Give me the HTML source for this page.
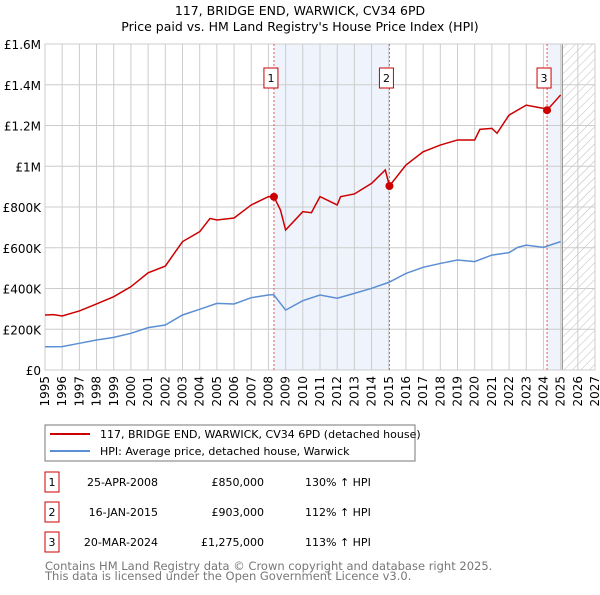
<!DOCTYPE html>
<html><head><meta charset="utf-8"><style>
body{margin:0;background:#fff;font-family:"Liberation Sans","DejaVu Sans",sans-serif}
svg text{font-family:"DejaVu Sans","Liberation Sans",sans-serif}
</style></head><body>
<svg id="c" width="600" height="590" xmlns="http://www.w3.org/2000/svg">
<defs><pattern id="hatch" width="6" height="6" patternUnits="userSpaceOnUse" patternTransform="rotate(45)"><line x1="0" y1="0" x2="0" y2="6" stroke="#bbb" stroke-width="1"/></pattern></defs>
<text x="300" y="15" text-anchor="middle" font-size="12.5">117, BRIDGE END, WARWICK, CV34 6PD</text>
<text x="300" y="31" text-anchor="middle" font-size="12.5">Price paid vs. HM Land Registry's House Price Index (HPI)</text>
<g id="plot"></g>
<rect x="45" y="425" width="370" height="36" fill="#fff" stroke="#777"/>
<line x1="50" y1="434" x2="90" y2="434" stroke="#cc0000" stroke-width="2"/>
<text x="100" y="438" font-size="11">117, BRIDGE END, WARWICK, CV34 6PD (detached house)</text>
<line x1="50" y1="451" x2="90" y2="451" stroke="#5b8fd4" stroke-width="2"/>
<text x="100" y="455" font-size="11">HPI: Average price, detached house, Warwick</text>
<g id="table" font-size="11"></g>
<text x="45" y="570" font-size="11.5" fill="#777">Contains HM Land Registry data © Crown copyright and database right 2025.</text>
<text x="45" y="580" font-size="11.5" fill="#777">This data is licensed under the Open Government Licence v3.0.</text>
</svg>
<script>
const yTicks=[0,200000,400000,600000,800000,1000000,1200000,1400000,1600000];
const yTickLabels=["£0","£200K","£400K","£600K","£800K","£1M","£1.2M","£1.4M","£1.6M"];
const years=[1995,1996,1997,1998,1999,2000,2001,2002,2003,2004,2005,2006,2007,2008,2009,2010,2011,2012,2013,2014,2015,2016,2017,2018,2019,2020,2021,2022,2023,2024,2025,2026,2027];
const hpiDates=[1995,1996,1997,1998,1999,2000,2001,2002,2003,2004,2005,2006,2007,2008,2008.3,2009,2010,2011,2012,2013,2014,2015,2016,2017,2018,2019,2020,2021,2022,2022.5,2023,2024,2025];
const hpiValues=[114000,115000,131000,147000,160000,180000,208000,221000,270000,298000,327000,324000,355000,368000,370000,294000,340000,368000,352000,376000,401000,430000,474000,504000,523000,540000,532000,564000,576000,602000,613000,602000,630000];
const priceDates=[1995,1995.5,1996,1997,1998,1999,2000,2001,2002,2003,2004,2004.6,2005,2006,2007,2008,2008.32,2008.7,2009,2010,2010.5,2011,2012,2012.2,2013,2014,2014.8,2015.04,2016,2017,2018,2019,2020,2020.3,2021,2021.3,2022,2023,2024,2024.21,2025];
const priceValues=[270000,272000,265000,290000,324000,360000,409000,477000,510000,630000,679000,744000,736000,746000,810000,851000,850000,785000,687000,777000,772000,851000,810000,851000,864000,916000,982000,903000,1006000,1071000,1104000,1129000,1129000,1181000,1186000,1162000,1251000,1300000,1284000,1275000,1350000];
const saleDates=[2008.32,2015.04,2024.21];
const saleValues=[850000,903000,1275000];
const saleLabels=["1","2","3"];
const saleDateText=["25-APR-2008","16-JAN-2015","20-MAR-2024"];
const salePriceText=["£850,000","£903,000","£1,275,000"];
const salePctText=["130% ↑ HPI","112% ↑ HPI","113% ↑ HPI"];
const dataEnd=2025.1;
const X0=45,X1=595,Y0=370,Y1=44;
const xs=t=>X0+(t-1995)/(2027-1995)*(X1-X0);
const ys=v=>Y0-v/1600000*(Y0-Y1);
const NS="http://www.w3.org/2000/svg";
const plot=document.getElementById('plot');
function mk(tag,attrs,parent){const e=document.createElementNS(NS,tag);for(const k in attrs)e.setAttribute(k,attrs[k]);(parent||plot).appendChild(e);return e;}
let e;
e=mk('rect',{x:xs(saleDates[0]),y:Y1,width:xs(saleDates[1])-xs(saleDates[0]),height:Y0-Y1,fill:'#eef3fc'});


e=mk('rect',{x:xs(saleDates[2]),y:Y1,width:xs(dataEnd)-xs(saleDates[2]),height:Y0-Y1,fill:'#eef3fc'});


e=mk('rect',{x:xs(dataEnd),y:Y1,width:X1-xs(dataEnd),height:Y0-Y1,fill:'url(#hatch)'});


yTicks.forEach((v,i)=>{
  e=mk('line',{x1:X0,x2:X1,y1:ys(v),y2:ys(v),stroke:'#ccc'});
  
  
  e=mk('text',{x:X0-4,y:ys(v)+5,'text-anchor':'end','font-size':'12'});e.textContent=yTickLabels[i];
  
  
});
years.forEach(y=>{
  e=mk('line',{x1:xs(y),x2:xs(y),y1:Y1,y2:Y0,stroke:'#ccc'});
  
  
  e=mk('text',{x:0,y:0,'text-anchor':'end','font-size':'12',transform:`translate(${xs(y)+4},${Y0+6}) rotate(-90)`});e.textContent=y;
  
  
});
e=mk('line',{x1:xs(dataEnd),x2:xs(dataEnd),y1:Y1,y2:Y0,stroke:'#888'});


e=mk('rect',{x:X0,y:Y1,width:X1-X0,height:Y0-Y1,fill:'none',stroke:'#ccc'});


saleDates.forEach((d,i)=>{
  e=mk('line',{x1:xs(d),x2:xs(d),y1:Y1,y2:Y0,stroke:'#e55','stroke-dasharray':'2,2'});
  
  
  e=mk('rect',{x:xs(d)-10,y:68,width:14,height:20,fill:'#fff',stroke:'#cc0000'});
  
  
  e=mk('text',{x:xs(d)-3,y:82,'text-anchor':'middle','font-size':'11'});e.textContent=saleLabels[i];
  
  
});
e=mk('polyline',{points:hpiDates.map((d,i)=>xs(d)+','+ys(hpiValues[i])).join(' '),fill:'none',stroke:'#5b8fd4','stroke-width':1.5});


e=mk('polyline',{points:priceDates.map((d,i)=>xs(d)+','+ys(priceValues[i])).join(' '),fill:'none',stroke:'#cc0000','stroke-width':1.5});


saleDates.forEach((d,i)=>{
  e=mk('circle',{cx:xs(d),cy:ys(saleValues[i]),r:4,fill:'#cc0000'});
  
  
});
const tbl=document.getElementById('table');
saleDates.forEach((d,i)=>{
  const y=483+i*30;
  e=mk('rect',{x:45,y:y-11,width:14,height:20,fill:'#fff',stroke:'#cc0000'},tbl);
  
  
  e=mk('text',{x:52,y:y+3,'text-anchor':'middle'},tbl);e.textContent=saleLabels[i];
  
  
  e=mk('text',{x:158,y:y+3,'text-anchor':'end'},tbl);e.textContent=saleDateText[i];
  
  
  e=mk('text',{x:264,y:y+3,'text-anchor':'end'},tbl);e.textContent=salePriceText[i];
  
  
  e=mk('text',{x:305,y:y+3},tbl);e.textContent=salePctText[i];
  
  
});
</script>
</body></html>
